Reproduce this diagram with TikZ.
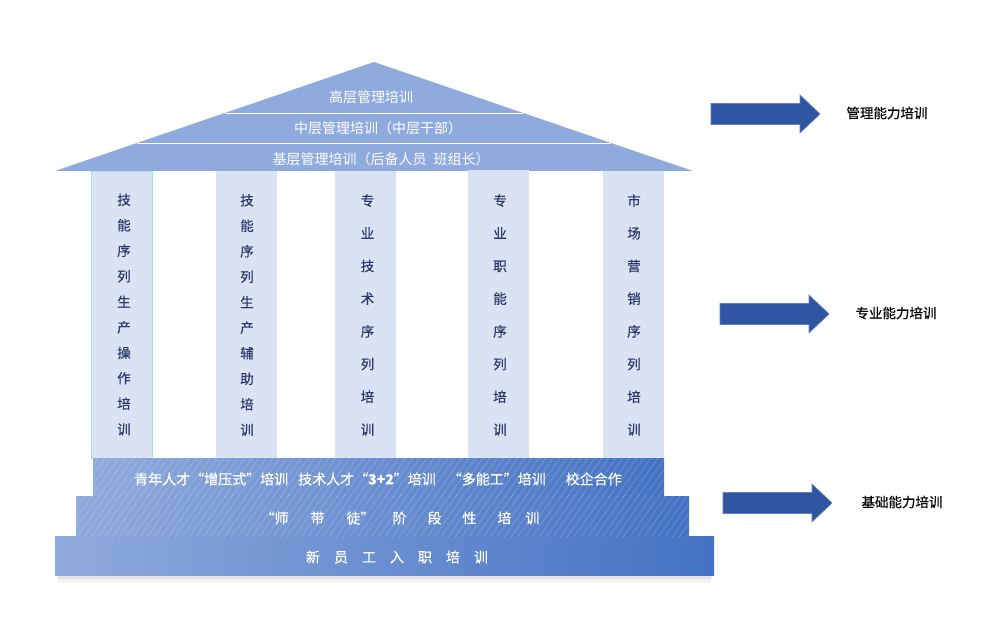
\documentclass[tikz,border=0pt]{standalone}
\usepackage{fontspec}
\setmainfont{Noto Sans CJK SC}
\newfontfamily\semibold{Noto Sans CJK SC}[FakeBold=0.6]
\usepackage{tikz}
\usetikzlibrary{shapes,positioning}

\definecolor{roofblue}{HTML}{8FAADC}
\definecolor{pillarblue}{HTML}{DAE3F3}
\definecolor{pillaredge}{HTML}{A6E0DE}
\definecolor{deepblue}{HTML}{4472C4}
\definecolor{arrowblue}{HTML}{2F55A2}
\definecolor{inkblue}{HTML}{2B3A68}

% full-width quotes
\newcommand\oq{\makebox[1em][r]{“}}
\newcommand\cq{\makebox[1em][l]{”}}

\tikzset{
	pillar/.style={fill=pillarblue,minimum width=61pt,minimum height=287pt,inner sep=0pt},
	pillartext/.style={align=center,text=inkblue,font=\semibold\fontsize{13.5}{25.5}\selectfont},
	widetext/.style={pillartext,font=\semibold\fontsize{13.5}{32.7}\selectfont},
	stepbox/.style={left color=roofblue,right color=deepblue,inner sep=0pt},
	rooftext/.style={text=white,font=\fontsize{14}{16}\selectfont},
	steptext/.style={text=white,font=\semibold\fontsize{14}{16}\selectfont},
	sidetext/.style={text=black,font=\semibold\fontsize{13.5}{16}\selectfont},
	hatch/.style={white,opacity=0.25,line width=0.5pt},
	bigarrow/.style={fill=arrowblue,draw=arrowblue!75!white,line width=0.6pt},
}

\begin{document}
\begin{tikzpicture}[x=1pt,y=-1pt]
	\useasboundingbox (0,0) rectangle (983,620);
	%
	% roof
	\fill[roofblue] (55,171) -- (374,62) -- (693,171) -- cycle;
	\draw[white,line width=0.8pt] (225,113) -- (523,113);
	\draw[white,line width=0.8pt] (137,143) -- (611,143);
	\node[rooftext] (top) at (371,97) {高层管理培训};
	\node[rooftext] (mid) at (378,128) {中层管理培训（中层干部）};
	\node[rooftext] (base) at (381,159) {基层管理培训（后备人员\enspace 班组长）};
	%
	% pillars
	\node[pillar,draw=pillaredge,line width=0.8pt] (p1) at (121.5,314.5) {};
	\node[pillar] (p2) at (246.5,315) {};
	\node[pillar] (p3) at (365.5,315) {};
	\node[pillar,minimum height=288pt] (p4) at (498,314) {};
	\node[pillar] (p5) at (633.5,315) {};
	\node[pillartext] (w1) at ([xshift=2.5pt]p1.center) {技\\能\\序\\列\\生\\产\\操\\作\\培\\训};
	\node[pillartext] (w2) at ([xshift=0.5pt]p2.center) {技\\能\\序\\列\\生\\产\\辅\\助\\培\\训};
	\node[widetext] (w3) at ([xshift=2pt]p3.center) {专\\业\\技\\术\\序\\列\\培\\训};
	\node[widetext] (w4) at ([xshift=2pt,yshift=-1pt]p4.center) {专\\业\\职\\能\\序\\列\\培\\训};
	\node[widetext] (w5) at ([xshift=0.5pt]p5.center) {市\\场\\营\\销\\序\\列\\培\\训};
	%
	% steps
	\fill[black,opacity=0.05] (58,575) rectangle (711,583);
	\fill[black,opacity=0.06] (57,575) rectangle (712,579);
	\node[stepbox,minimum width=571pt,minimum height=38pt] (s1) at (378.5,477) {};
	\node[stepbox,minimum width=613pt,minimum height=40pt] (s2) at (382.5,516) {};
	\node[stepbox,minimum width=659pt,minimum height=39pt] (s3) at (384.5,555.5) {};
	\foreach \s in {s1,s2} {
		\begin{scope}
			\clip (\s.south west) rectangle (\s.north east);
			\foreach \i in {40,47,...,700}
				\draw[hatch] (\i,540) -- ++(60,-85);
		\end{scope}
	}
	\node[steptext] (t1) at (378,479)
		{青年人才\oq 增压式\cq 培训\hspace{10pt}技术人才\oq\textbf{3+2}\cq 培训\hspace{12pt}\oq 多能工\cq 培训\hspace{20pt}校企合作};
	\node[steptext] (t2) at (400,518)
		{\oq 师\hspace{22pt}带\hspace{22pt}徒\cq\hspace{18pt}阶\hspace{21pt}段\hspace{21pt}性\hspace{21pt}培\hspace{14pt}训};
	\node[steptext] (t3) at (397,557)
		{新\hspace{14pt}员\hspace{14pt}工\hspace{14pt}入\hspace{14pt}职\hspace{14pt}培\hspace{14pt}训};
	%
	% arrows
	\foreach \x/\y in {711/114,720/314,723/503}
		\filldraw[bigarrow] (\x,\y-10.5) -- ++(89,0) -- ++(0,-8.5) -- ++(20,19)
			-- ++(-20,19) -- ++(0,-8.5) -- ++(-89,0) -- cycle;
	\node[sidetext] (l1) at (887,113) {管理能力培训};
	\node[sidetext] (l2) at (896,313) {专业能力培训};
	\node[sidetext] (l3) at (902,502) {基础能力培训};
\end{tikzpicture}
\end{document}
